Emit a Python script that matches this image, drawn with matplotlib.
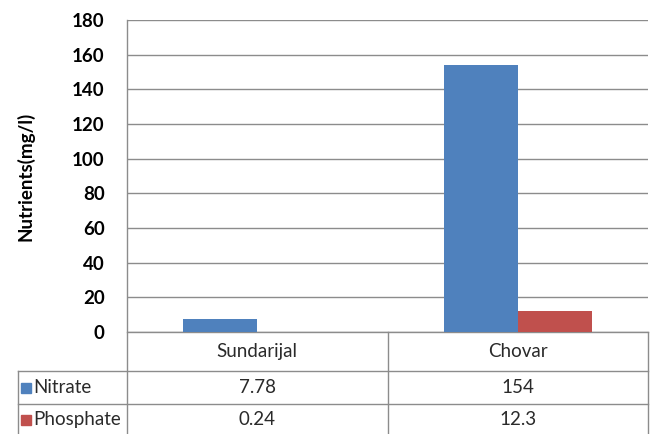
import matplotlib.pyplot as plt
from matplotlib.patches import Rectangle

sites = ["Sundarijal", "Chovar"]
nitrate = [7.78, 154]
phosphate = [0.24, 12.3]
series_names = ["Nitrate", "Phosphate"]
colors = ["#4F81BD", "#C0504D"]
line_col = "#8c8c8c"

plt.rcParams['font.family'] = ['Lato', 'DejaVu Sans']

fig = plt.figure(figsize=(6.51, 4.34), dpi=100)
ax = fig.add_axes([127 / 651, (434 - 332) / 434, (648 - 127) / 651, 312 / 434])

x = list(range(len(sites)))
w = 0.285
ax.bar([i - w / 2 for i in x], nitrate, w, color=colors[0], zorder=3)
ax.bar([i + w / 2 for i in x], phosphate, w, color=colors[1], zorder=3)

ax.set_xlim(-0.5, 1.5)
ax.set_ylim(0, 180)
ax.set_yticks(range(0, 181, 20))
ax.yaxis.grid(True, color=line_col, linewidth=1)
ax.set_axisbelow(True)
ax.set_xticks([])
ax.tick_params(axis='y', length=0, pad=16, labelsize=13.5)
for lbl in ax.get_yticklabels():
    lbl.set_fontweight('bold')
for s in ["top", "right", "bottom", "left"]:
    ax.spines[s].set_visible(False)
ax.set_ylabel("Nutrients(mg/l)", fontsize=13.5, fontweight='bold')
ax.yaxis.set_label_coords(-0.178, 0.5)

# data table under the plot
tr = ax.get_xaxis_transform()
left_x = -0.919
rows_y = [0.0, -0.125, -0.231, -0.33]
kw = dict(transform=tr, color=line_col, linewidth=1, clip_on=False)
ax.plot([-0.5, -0.5], [1.0, rows_y[-1]], **kw)
ax.plot([0.5, 0.5], [0, rows_y[-1]], **kw)
ax.plot([1.5, 1.5], [0, rows_y[-1]], **kw)
ax.plot([left_x, left_x], [rows_y[1], rows_y[-1]], **kw)
ax.plot([-0.5, 1.5], [0, 0], **kw)
for yy in rows_y[1:3]:
    ax.plot([left_x, 1.5], [yy, yy], **kw)

fs = 13.5
txt_col = '#2a2a2a'
for i, name in enumerate(sites):
    ax.text(i, -0.064, name, transform=tr, ha='center', va='center', fontsize=fs, color=txt_col)
for r, vals in enumerate([nitrate, phosphate]):
    yc = (rows_y[r + 1] + rows_y[r + 2]) / 2
    for i, v in enumerate(vals):
        ax.text(i, yc, f"{v:g}", transform=tr, ha='center', va='center', fontsize=fs, color=txt_col)
    ax.text(left_x + 0.058, yc, series_names[r], transform=tr, ha='left', va='center',
            fontsize=fs, color=txt_col)
    ypix = 434 - (332 - yc * 312)
    fig.patches.append(Rectangle((21 / 651, (ypix - 5) / 434), 10 / 651, 10 / 434,
                                 transform=fig.transFigure, color=colors[r]))

fig.savefig("out.png", dpi=100)
